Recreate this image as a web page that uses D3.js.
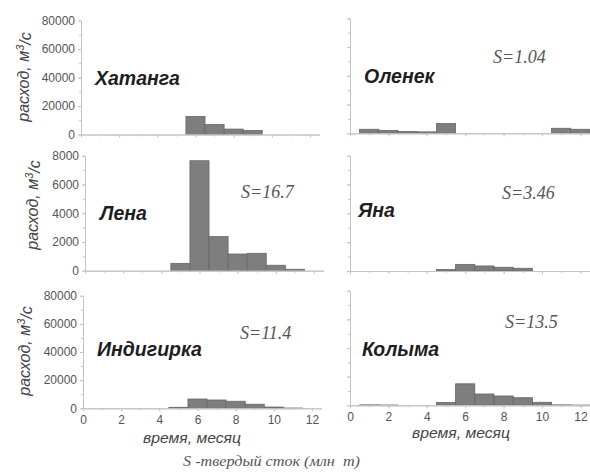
<!DOCTYPE html>
<html>
<head>
<meta charset="utf-8">
<script src="https://cdn.jsdelivr.net/npm/d3@7"></script>
<style>
	body { margin: 0; background: #fff; }
	svg { display: block; }
	.axis path, .axis line { stroke: #c4c4c4; }
	.axis text { fill: #555; font-family: "Liberation Sans", Arial, sans-serif; font-size: 12px; }
</style>
</head>
<body>
<div id="chart"></div>
<script>
var width = 590;
var height = 473;

// monthly discharge, m3/s (month 1..12)
var months = [1,2,3,4,5,6,7,8,9,10,11,12];
var khatanga  = [0,0,0,0,0,12700,7000,3800,2800,0,0,0];
var olenek    = [2800,1900,1200,1000,6800,0,0,0,0,0,3500,2800];
var lena      = [0,0,0,0,510,7650,2370,1160,1210,380,100,0];
var yana      = [0,0,0,0,100,460,350,260,190,0,0,0];
var indigirka = [0,0,0,0,700,6600,5900,5000,2900,900,200,0];
var kolyma    = [300,200,0,0,1900,15000,7900,6500,5300,2100,300,150];

var riverNames = ["Хатанга","Оленек","Лена","Яна","Индигирка","Колыма"];
var sediment = [null,"1.04","16.7","3.46","11.4","13.5"];
var yMaxes = [80000,80000,8000,8000,80000,80000];
var yMajorTicks = [[0,20000,40000,60000,80000],[0,2000,4000,6000,8000]];
var xMajorTicks = [0,2,4,6,8,10,12];

var svg = d3.select("#chart")
	.append("svg")
	.attr("width",width)
	.attr("height",height);

/************************************** Layout ********************************************************/
// x0 = y-axis position, top/bottom = pixel range of the y axis
var panels = [
	{data: khatanga,  x0: 81,  top: 20.5,  bottom: 134.5, left: true,  labels: false,
		name: [95,85],  s: null,      yTitle: [29,77]},
	{data: olenek,    x0: 350, top: 18.3,  bottom: 133.3, left: false, labels: false,
		name: [364,83], s: [493,63]},
	{data: lena,      x0: 85,  top: 155.7, bottom: 270.7, left: true,  labels: false,
		name: [100,220], s: [241,198], yTitle: [38,205]},
	{data: yana,      x0: 350, top: 155.7, bottom: 271,   left: false, labels: false,
		name: [358,217], s: [502,199]},
	{data: indigirka, x0: 83,  top: 295.7, bottom: 408.3, left: true,  labels: true,
		name: [97,356], s: [240,339], yTitle: [30,351], xTitle: [143,443]},
	{data: kolyma,    x0: 350, top: 290.7, bottom: 405.3, left: false, labels: true,
		name: [362,356], s: [505,328], xTitle: [412,438]}
];

panels.forEach(function(p, i) {
	var pxPerMonth = p.left ? 19.08 : 19.2;
	var x = d3.scaleLinear().domain([0,12.5]).range([p.x0, p.x0 + 12.5 * pxPerMonth]);
	var y = d3.scaleLinear().domain([0,yMaxes[i]]).range([p.bottom, p.top]);
	var g = svg.append("g");

	// bars
	var bars = months.map(function(m, j) { return {m: m, v: p.data[j]}; })
		.filter(function(d) { return d.v > 0; });
	g.selectAll(".bar")
		.data(bars)
		.enter().append("rect")
		.attr("class","bar")
		.attr("x", function(d) { return x(d.m - 0.5); })
		.attr("width", function(d) { return x(d.m + 0.5) - x(d.m - 0.5); })
		.attr("y", function(d) { return y(d.v); })
		.attr("height", function(d) { return y(0) - y(d.v); })
		.style("fill","#7e7e7e")
		.style("stroke","#666")
		.style("stroke-width",0.8);

	// x axis: minor ticks each month, major every 2
	g.append("g").attr("class","axis")
		.attr("transform","translate(0," + p.bottom + ")")
		.call(d3.axisBottom(x).tickValues(months).tickSize(2).tickFormat("").tickSizeOuter(0));
	g.append("g").attr("class","axis")
		.attr("transform","translate(0," + p.bottom + ")")
		.call(d3.axisBottom(x).tickValues(xMajorTicks).tickSize(3).tickSizeOuter(0)
			.tickFormat(p.labels ? d3.format("d") : ""))
		.selectAll("text").attr("dy","0.8em");

	// y axis
	var major = yMaxes[i] == 8000 ? yMajorTicks[1] : yMajorTicks[0];
	var step = major[1] / 2;
	var minor = d3.range(0, yMaxes[i] + 1, step);
	g.append("g").attr("class","axis")
		.attr("transform","translate(" + p.x0 + ",0)")
		.call(d3.axisLeft(y).tickValues(minor).tickSize(2).tickFormat("").tickSizeOuter(0));
	g.append("g").attr("class","axis")
		.attr("transform","translate(" + p.x0 + ",0)")
		.call(d3.axisLeft(y).tickValues(major).tickSize(3).tickSizeOuter(0)
			.tickFormat(p.left ? d3.format("d") : ""));
	g.selectAll(".axis .domain").style("stroke","#c4c4c4");

	// river name
	svg.append("text")
		.attr("x",p.name[0]).attr("y",p.name[1])
		.style("font-family","'Liberation Sans', Arial, sans-serif")
		.style("font-weight","bold").style("font-style","italic")
		.style("font-size","19.5px").style("fill","#1e1e1e")
		.text(riverNames[i]);

	// sediment yield
	if(p.s) {
		svg.append("text")
			.attr("x",p.s[0]).attr("y",p.s[1])
			.style("font-family","'Liberation Serif', 'Times New Roman', serif")
			.style("font-style","italic").style("font-size","18px").style("fill","#555")
			.text("S=" + sediment[i]);
	}

	// y title
	if(p.yTitle) {
		var t = svg.append("text")
			.attr("transform","translate(" + p.yTitle[0] + "," + p.yTitle[1] + ") rotate(-90)")
			.attr("text-anchor","middle")
			.style("font-family","'Liberation Sans', Arial, sans-serif")
			.style("font-style","italic").style("font-size","16px").style("fill","#444");
		t.append("tspan").text("расход, м");
		t.append("tspan").attr("dy","-0.45em").style("font-size","11px").text("3");
		t.append("tspan").attr("dy","0.45em").text("/с");
	}

	// x title
	if(p.xTitle) {
		svg.append("text")
			.attr("x",p.xTitle[0]).attr("y",p.xTitle[1])
			.attr("textLength",98).attr("lengthAdjust","spacingAndGlyphs")
			.style("font-family","'Liberation Sans', Arial, sans-serif")
			.style("font-style","italic").style("font-size","14px").style("fill","#444")
			.text("время, месяц");
	}
});

// caption
svg.append("text")
	.attr("x",183).attr("y",466)
	.attr("textLength",177).attr("lengthAdjust","spacingAndGlyphs")
	.style("font-family","'Liberation Serif', 'Times New Roman', serif")
	.style("font-style","italic").style("font-size","14px").style("fill","#555")
	.style("white-space","pre")
	.text("S -твердый сток (млн  т)");
</script>
</body>
</html>
